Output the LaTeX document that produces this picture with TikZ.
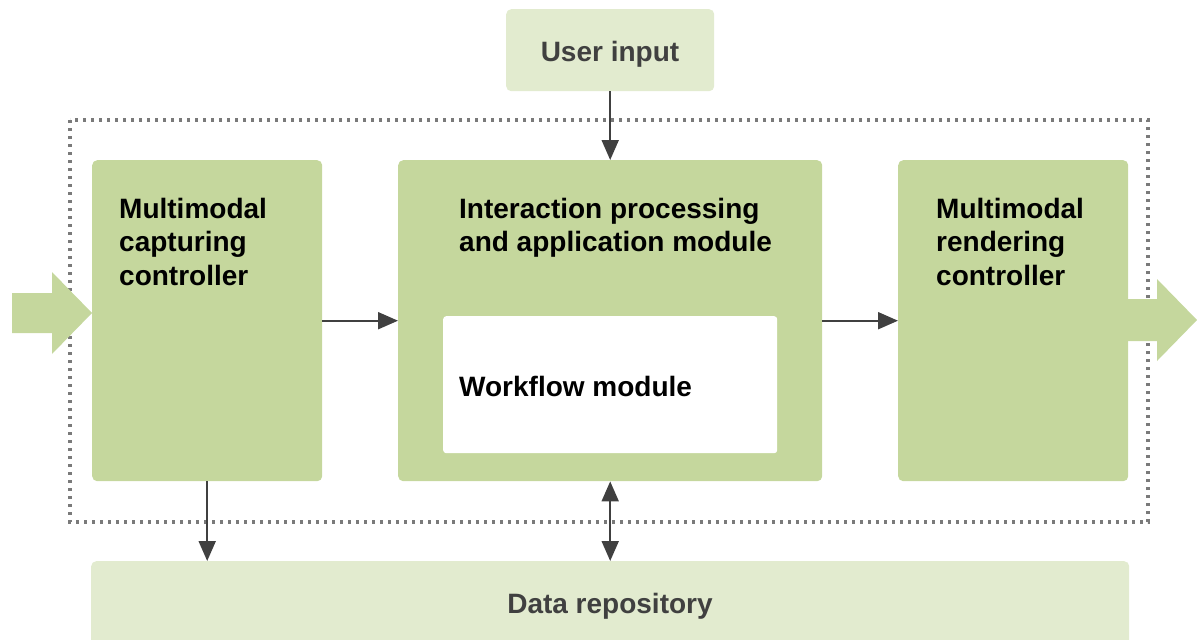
\documentclass[tikz,border=0pt]{standalone}
\usepackage{fontspec}
\setmainfont{Liberation Sans}
\usetikzlibrary{arrows.meta,calc}
\definecolor{boxgreen}{HTML}{C5D79D}
\definecolor{lightgreen}{HTML}{E2EBCF}
\definecolor{darkgray}{HTML}{404040}
\definecolor{dotgray}{HTML}{7A7A7A}
\tikzset{
  box/.style={anchor=north west, inner sep=0pt, rounded corners=5pt, draw=none},
  greenbox/.style={box, fill=boxgreen},
  lightbox/.style={box, fill=lightgreen},
  whitebox/.style={box, fill=white, rounded corners=3pt},
  lbl/.style={inner sep=0pt, align=left, font=\bfseries\fontsize{28}{33.5}\selectfont, text=black},
  glbl/.style={lbl, text=darkgray},
  conn/.style={draw=darkgray, line width=2pt, -{Triangle[width=17pt,length=20pt]}},
  biconn/.style={draw=darkgray, line width=2pt, {Triangle[width=17pt,length=20pt]}-{Triangle[width=17pt,length=20pt]}},
  frame/.style={draw=dotgray, line width=3.3pt, dash pattern=on 3.3pt off 4.7pt},
  bigarrow/.style={fill=boxgreen, draw=none}
}
\begin{document}
\begin{tikzpicture}[x=1pt,y=-1pt]
\useasboundingbox (0,0) rectangle (1197,640);
% dotted frame
\draw[frame] (70,120) rectangle (1148,522);
% boxes
\node[lightbox, minimum width=208pt, minimum height=82pt] (user) at (506,9) {};
\node[greenbox, minimum width=230pt, minimum height=321pt] (cap) at (92,160) {};
\node[greenbox, minimum width=424pt, minimum height=321pt] (mid) at (398,160) {};
\node[whitebox, minimum width=334pt, minimum height=137pt] (wf) at (443,316) {};
\node[greenbox, minimum width=230pt, minimum height=321pt] (ren) at (898,160) {};
\node[lightbox, minimum width=1038pt, minimum height=110pt] (data) at (91,561) {};
% big arrows
\path[bigarrow] (12,293) -- (52,293) -- (52,272) -- (92,313) -- (52,354) -- (52,333) -- (12,333) -- cycle;
\path[bigarrow] (1120,299) -- (1157,299) -- (1157,279) -- (1197,320) -- (1157,361) -- (1157,341) -- (1120,341) -- cycle;
% labels
\node[glbl, anchor=base] (userlbl) at (610,61) {User input};
\node[lbl, anchor=base west] (caplbl) at (119,285) {Multimodal\\capturing\\controller};
\node[lbl, anchor=base west] (midlbl) at (459,251.5) {Interaction processing\\and application module};
\node[lbl, anchor=base west] (wflbl) at (459,396) {Workflow module};
\node[lbl, anchor=base west] (renlbl) at (936,285) {Multimodal\\rendering\\controller};
\node[glbl, anchor=base] (datalbl) at (610,613) {Data repository};
% connectors
\draw[conn] (user.south) -- (mid.north);
\draw[conn] (cap.east) -- (mid.west);
\draw[conn] (mid.east) -- (ren.west);
\draw[conn] (cap.south) -- (cap.south |- data.north);
\draw[biconn] (mid.south) -- (data.north);
\end{tikzpicture}
\end{document}
